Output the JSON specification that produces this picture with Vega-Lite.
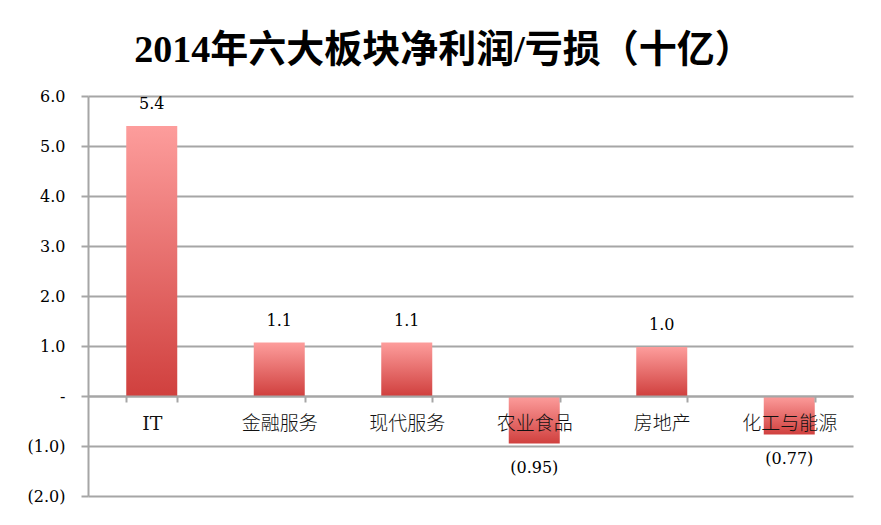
{
  "$schema": "https://vega.github.io/schema/vega-lite/v6.json",
  "width": 765,
  "height": 400,
  "autosize": {"type": "none"},
  "padding": {"left": 88, "top": 96, "right": 28, "bottom": 29},
  "background": "white",
  "title": {
    "text": "2014年六大板块净利润/亏损（十亿）",
    "font": "Liberation Serif, Noto Sans CJK SC",
    "fontSize": 38,
    "fontWeight": "bold",
    "color": "black",
    "anchor": "middle",
    "dx": -27,
    "offset": 18
  },
  "config": {"view": {"stroke": null}},
  "data": {
    "values": [
      {"sector": "IT", "value": 5.4, "label": "5.4"},
      {"sector": "金融服务", "value": 1.07, "label": "1.1"},
      {"sector": "现代服务", "value": 1.07, "label": "1.1"},
      {"sector": "农业食品", "value": -0.95, "label": "(0.95)"},
      {"sector": "房地产", "value": 0.98, "label": "1.0"},
      {"sector": "化工与能源", "value": -0.77, "label": "(0.77)"}
    ]
  },
  "encoding": {
    "x": {
      "field": "sector",
      "type": "nominal",
      "sort": null,
      "scale": {"paddingInner": 0.6, "paddingOuter": 0.3},
      "axis": {
        "title": null,
        "orient": "bottom",
        "offset": -100,
        "zindex": 1,
        "labelAngle": 0,
        "labelFont": "DejaVu Serif, Noto Sans CJK SC",
        "labelFontSize": 19,
        "labelFontWeight": 300,
        "labelColor": "#111111",
        "labelPadding": 12,
        "domainColor": "#a6a6a6",
        "domainWidth": 2,
        "tickBand": "extent",
        "tickColor": "#a6a6a6",
        "tickWidth": 2,
        "tickSize": 6,
        "grid": false
      }
    },
    "y": {
      "field": "value",
      "type": "quantitative",
      "scale": {"domain": [-2, 6], "nice": false, "zero": true},
      "axis": {
        "title": null,
        "values": [-2, -1, 0, 1, 2, 3, 4, 5, 6],
        "labelExpr": "datum.value == 0 ? '-' : (datum.value < 0 ? '(' + format(-datum.value, '.1f') + ')' : format(datum.value, '.1f'))",
        "grid": true,
        "gridColor": "#a6a6a6",
        "gridWidth": 2,
        "domainColor": "#a6a6a6",
        "domainWidth": 2,
        "tickColor": "#a6a6a6",
        "tickWidth": 2,
        "tickSize": 7,
        "labelFont": "DejaVu Serif",
        "labelFontSize": 16,
        "labelColor": "black",
        "labelPadding": 16
      }
    }
  },
  "layer": [
    {
      "mark": {
        "type": "bar",
        "color": {
          "gradient": "linear",
          "x1": 0, "y1": 0, "x2": 0, "y2": 1,
          "stops": [
            {"offset": 0, "color": "#fd9d9c"},
            {"offset": 1, "color": "#d0403e"}
          ]
        }
      }
    },
    {
      "transform": [{"filter": "datum.value >= 0"}],
      "mark": {"type": "text", "baseline": "middle", "dy": -22, "font": "DejaVu Serif", "fontSize": 16, "color": "black"},
      "encoding": {"text": {"field": "label"}}
    },
    {
      "transform": [{"filter": "datum.value < 0"}],
      "mark": {"type": "text", "baseline": "middle", "dy": 24, "font": "DejaVu Serif", "fontSize": 16, "color": "black"},
      "encoding": {"text": {"field": "label"}}
    }
  ]
}
